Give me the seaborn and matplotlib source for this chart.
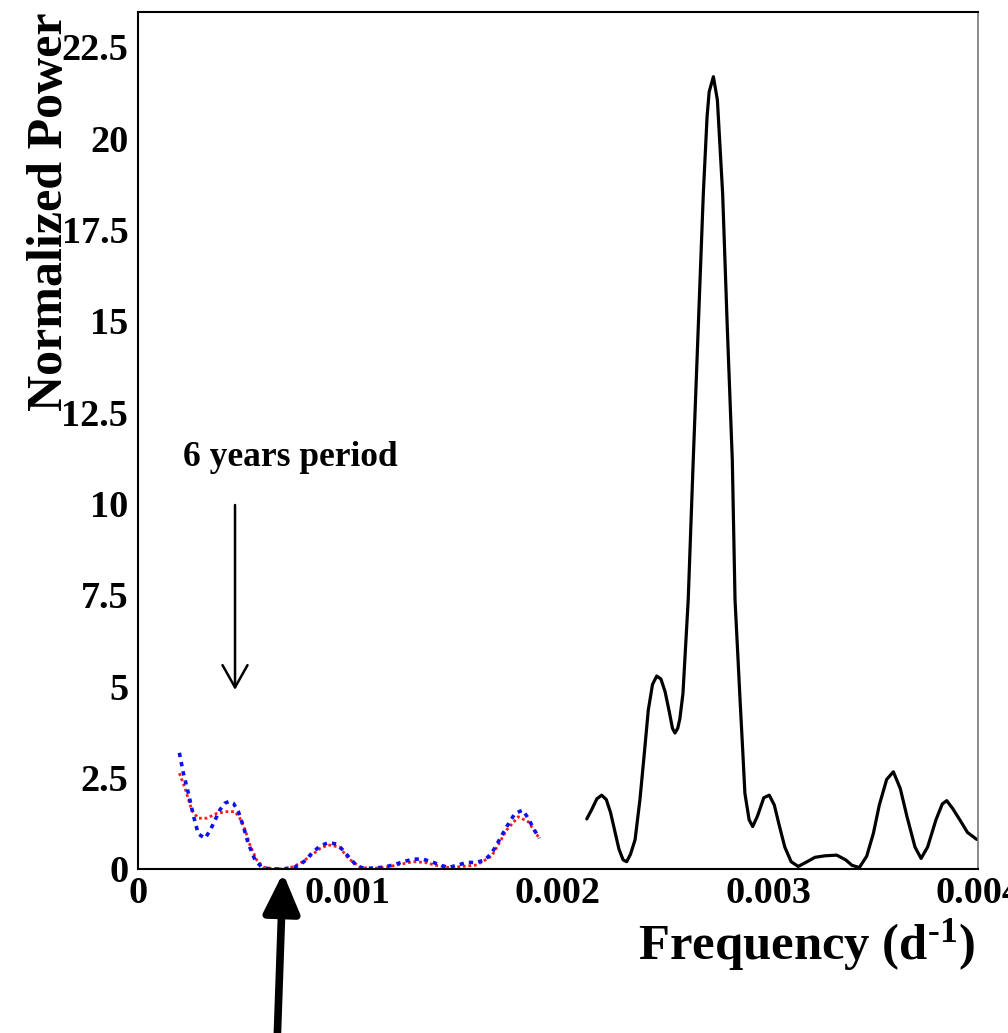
import numpy as np
import pandas as pd
import matplotlib
matplotlib.use("Agg")
import matplotlib.pyplot as plt
from matplotlib.ticker import MultipleLocator, FixedLocator, FixedFormatter
import seaborn as sns

# ---- data ----
freq_black = [0.002137, 0.00216, 0.002185, 0.002208, 0.00223, 0.00225, 0.00227, 0.00229,
              0.00231, 0.002327, 0.002345, 0.002367, 0.00239, 0.00241, 0.00243, 0.00245,
              0.00247, 0.00249, 0.00251, 0.00253, 0.002545, 0.002557, 0.00257, 0.00258,
              0.002595, 0.00262, 0.002644, 0.002668, 0.002692, 0.00271, 0.00272, 0.00274,
              0.002759, 0.002784, 0.002806, 0.00283, 0.002843, 0.002855, 0.002867, 0.00288,
              0.00289, 0.00291, 0.002927, 0.00295, 0.00298, 0.003006, 0.00303, 0.003055,
              0.00308, 0.00311, 0.003144, 0.00318, 0.003224, 0.00327, 0.003327, 0.00337,
              0.0034, 0.003435, 0.00347, 0.003502, 0.00353, 0.003565, 0.003597, 0.00363,
              0.003662, 0.0037, 0.003729, 0.00376, 0.0038, 0.00383, 0.003851, 0.00388,
              0.003914, 0.00395, 0.003994]
power_black = [1.37, 1.62, 1.92, 2.02, 1.90, 1.55, 1.05, 0.55,
               0.25, 0.20, 0.40, 0.80, 1.89, 3.10, 4.35, 5.05,
               5.28, 5.20, 4.85, 4.30, 3.85, 3.72, 3.85, 4.10,
               4.80, 7.36, 11.19, 14.84, 18.48, 20.60, 21.27, 21.68,
               21.04, 18.48, 14.84, 11.19, 7.36, 6.00, 4.62, 3.20,
               2.07, 1.35, 1.16, 1.45, 1.95, 2.02, 1.75, 1.16,
               0.60, 0.20, 0.07, 0.18, 0.32, 0.36, 0.38, 0.25,
               0.10, 0.04, 0.35, 0.98, 1.75, 2.45, 2.66, 2.20,
               1.43, 0.60, 0.29, 0.60, 1.35, 1.78, 1.87, 1.65,
               1.34, 1.00, 0.81]

freq_blue = [0.000197, 0.000216, 0.00024, 0.000263, 0.000287, 0.000319, 0.000343, 0.000367,
             0.00039, 0.000414, 0.000434, 0.000454, 0.000478, 0.000502, 0.000525, 0.000557,
             0.000589, 0.00062, 0.00066, 0.0007, 0.000724, 0.000745, 0.000771, 0.0008,
             0.000827, 0.000867, 0.000906, 0.000949, 0.000975, 0.001002, 0.001041, 0.00107,
             0.0011, 0.00113, 0.001168, 0.001216, 0.001263, 0.001311, 0.001356, 0.001398,
             0.001438, 0.001478, 0.001525, 0.001565, 0.001613, 0.001652, 0.001684, 0.001716,
             0.001756, 0.001795, 0.001832, 0.001859, 0.001886, 0.001911]
power_blue = [3.18, 2.62, 2.07, 1.48, 0.96, 0.84, 1.05, 1.34,
              1.62, 1.80, 1.85, 1.80, 1.57, 1.16, 0.70, 0.25,
              0.05, 0.01, 0.00, 0.01, 0.03, 0.05, 0.11, 0.25,
              0.43, 0.63, 0.72, 0.68, 0.52, 0.34, 0.09, 0.03,
              0.02, 0.03, 0.05, 0.11, 0.20, 0.27, 0.27, 0.20,
              0.11, 0.04, 0.11, 0.18, 0.18, 0.25, 0.43, 0.75,
              1.16, 1.52, 1.61, 1.38, 1.08, 0.84]

freq_red = [0.000197, 0.000224, 0.000256, 0.000287, 0.000327, 0.000375, 0.000422, 0.000462,
            0.000486, 0.00051, 0.000533, 0.000565, 0.000597, 0.00064, 0.00068, 0.00072,
            0.000771, 0.000827, 0.000867, 0.000906, 0.000959, 0.001002, 0.001057, 0.0011,
            0.00115, 0.0012, 0.00125, 0.001311, 0.001365, 0.00142, 0.001478, 0.00153,
            0.001613, 0.001684, 0.001756, 0.001811, 0.001859, 0.001911]
power_red = [2.62, 2.21, 1.61, 1.39, 1.39, 1.52, 1.57, 1.57,
             1.38, 1.07, 0.66, 0.25, 0.05, 0.01, 0.00, 0.02,
             0.15, 0.38, 0.56, 0.66, 0.60, 0.29, 0.05, 0.02,
             0.03, 0.07, 0.13, 0.20, 0.18, 0.10, 0.04, 0.06,
             0.11, 0.35, 1.07, 1.43, 1.29, 0.84]

x_ticks = [0.0, 0.001, 0.002, 0.003, 0.004]
x_ticklabels = ["0", "0.001", "0.002", "0.003", "0.004"]
y_ticks = [0, 2.5, 5, 7.5, 10, 12.5, 15, 17.5, 20, 22.5]
y_ticklabels = ["0", "2.5", "5", "7.5", "10", "12.5", "15", "17.5", "20", "22.5"]

df_black = pd.DataFrame({"freq": freq_black, "power": power_black})
df_blue = pd.DataFrame({"freq": freq_blue, "power": power_blue})
df_red = pd.DataFrame({"freq": freq_red, "power": power_red})

# ---- style ----
sns.set_theme(style="white")
plt.rcParams["font.family"] = ["Liberation Serif", "DejaVu Serif"]
plt.rcParams["font.weight"] = "bold"
plt.rcParams["mathtext.fontset"] = "custom"
plt.rcParams["mathtext.rm"] = "Liberation Serif:bold"
plt.rcParams["mathtext.it"] = "Liberation Serif:bold"
plt.rcParams["mathtext.bf"] = "Liberation Serif:bold"
plt.rcParams["axes.unicode_minus"] = False
for key in ["text.color", "axes.labelcolor", "xtick.color", "ytick.color", "axes.edgecolor"]:
    plt.rcParams[key] = "black"

fig = plt.figure(figsize=(10.08, 10.33), dpi=100)
ax = fig.add_axes([138 / 1008, 1 - 869 / 1033, 840 / 1008, 857 / 1033])

sns.lineplot(data=df_black, x="freq", y="power", ax=ax, color="black", lw=2.3,
             sort=False, estimator=None)
sns.lineplot(data=df_red, x="freq", y="power", ax=ax, color="#ff1a1a", lw=2.0,
             linestyle=(0, (1.0, 1.0)), sort=False, estimator=None)
sns.lineplot(data=df_blue, x="freq", y="power", ax=ax, color="#1010ee", lw=2.6,
             linestyle=(0, (1.2, 1.4)), sort=False, estimator=None)

ax.set_xlim(0, 0.004)
ax.set_ylim(0, 23.45)

ax.xaxis.set_major_locator(FixedLocator(x_ticks))
ax.xaxis.set_major_formatter(FixedFormatter(x_ticklabels))
ax.xaxis.set_minor_locator(MultipleLocator(0.0001))
ax.yaxis.set_major_locator(FixedLocator(y_ticks))
ax.yaxis.set_major_formatter(FixedFormatter(y_ticklabels))
ax.yaxis.set_minor_locator(MultipleLocator(0.5))

ax.tick_params(axis="both", which="both", direction="in", top=False, right=False,
               color="#333333", labelcolor="black")
ax.tick_params(axis="both", which="major", length=11, width=1.1, labelsize=27.5)
ax.tick_params(axis="both", which="minor", length=5, width=1.0)
ax.tick_params(axis="y", which="major", pad=7)
ax.tick_params(axis="x", which="major", pad=5)
for lab in ax.get_xticklabels() + ax.get_yticklabels():
    lab.set_fontweight("bold")

for side in ["left", "bottom", "top"]:
    ax.spines[side].set_color("black")
    ax.spines[side].set_linewidth(1.5)
ax.spines["right"].set_color("#777777")
ax.spines["right"].set_linewidth(1.2)

ax.set_xlabel("Frequency (d$^{\\mathrm{\u2010}1}$)", fontsize=36.5, fontweight="bold",
              color="black")
ax.xaxis.label.set(ha="right", va="center")
ax.xaxis.set_label_coords((975 - 138) / 840, (869 - 945) / 857)

ax.set_ylabel("Normalized Power", fontsize=36, fontweight="bold", color="black")
ax.yaxis.label.set(ha="right", va="center", rotation_mode="anchor")
ax.yaxis.set_label_coords((50 - 138) / 840, (869 - 12) / 857)

# annotations
ax.text(0.000724, 11.27, "6 years period", ha="center", va="center",
        fontsize=25.5, fontweight="bold", color="black")
ax.annotate("", xy=(0.000462, 4.9), xytext=(0.000462, 9.96),
            arrowprops=dict(arrowstyle="->,head_length=0.8,head_width=0.45",
                            lw=1.8, color="black", mutation_scale=20,
                            shrinkA=0, shrinkB=0))
ax.annotate("", xy=((283 - 138) / 840, (869 - 873) / 857), xycoords="axes fraction",
            xytext=((277 - 138) / 840, (869 - 1045) / 857), textcoords="axes fraction",
            annotation_clip=False,
            arrowprops=dict(arrowstyle="-|>,head_length=1.2,head_width=0.55",
                            lw=5.5, color="black", mutation_scale=20,
                            shrinkA=0, shrinkB=0))

fig.savefig("out.png", dpi=100)
